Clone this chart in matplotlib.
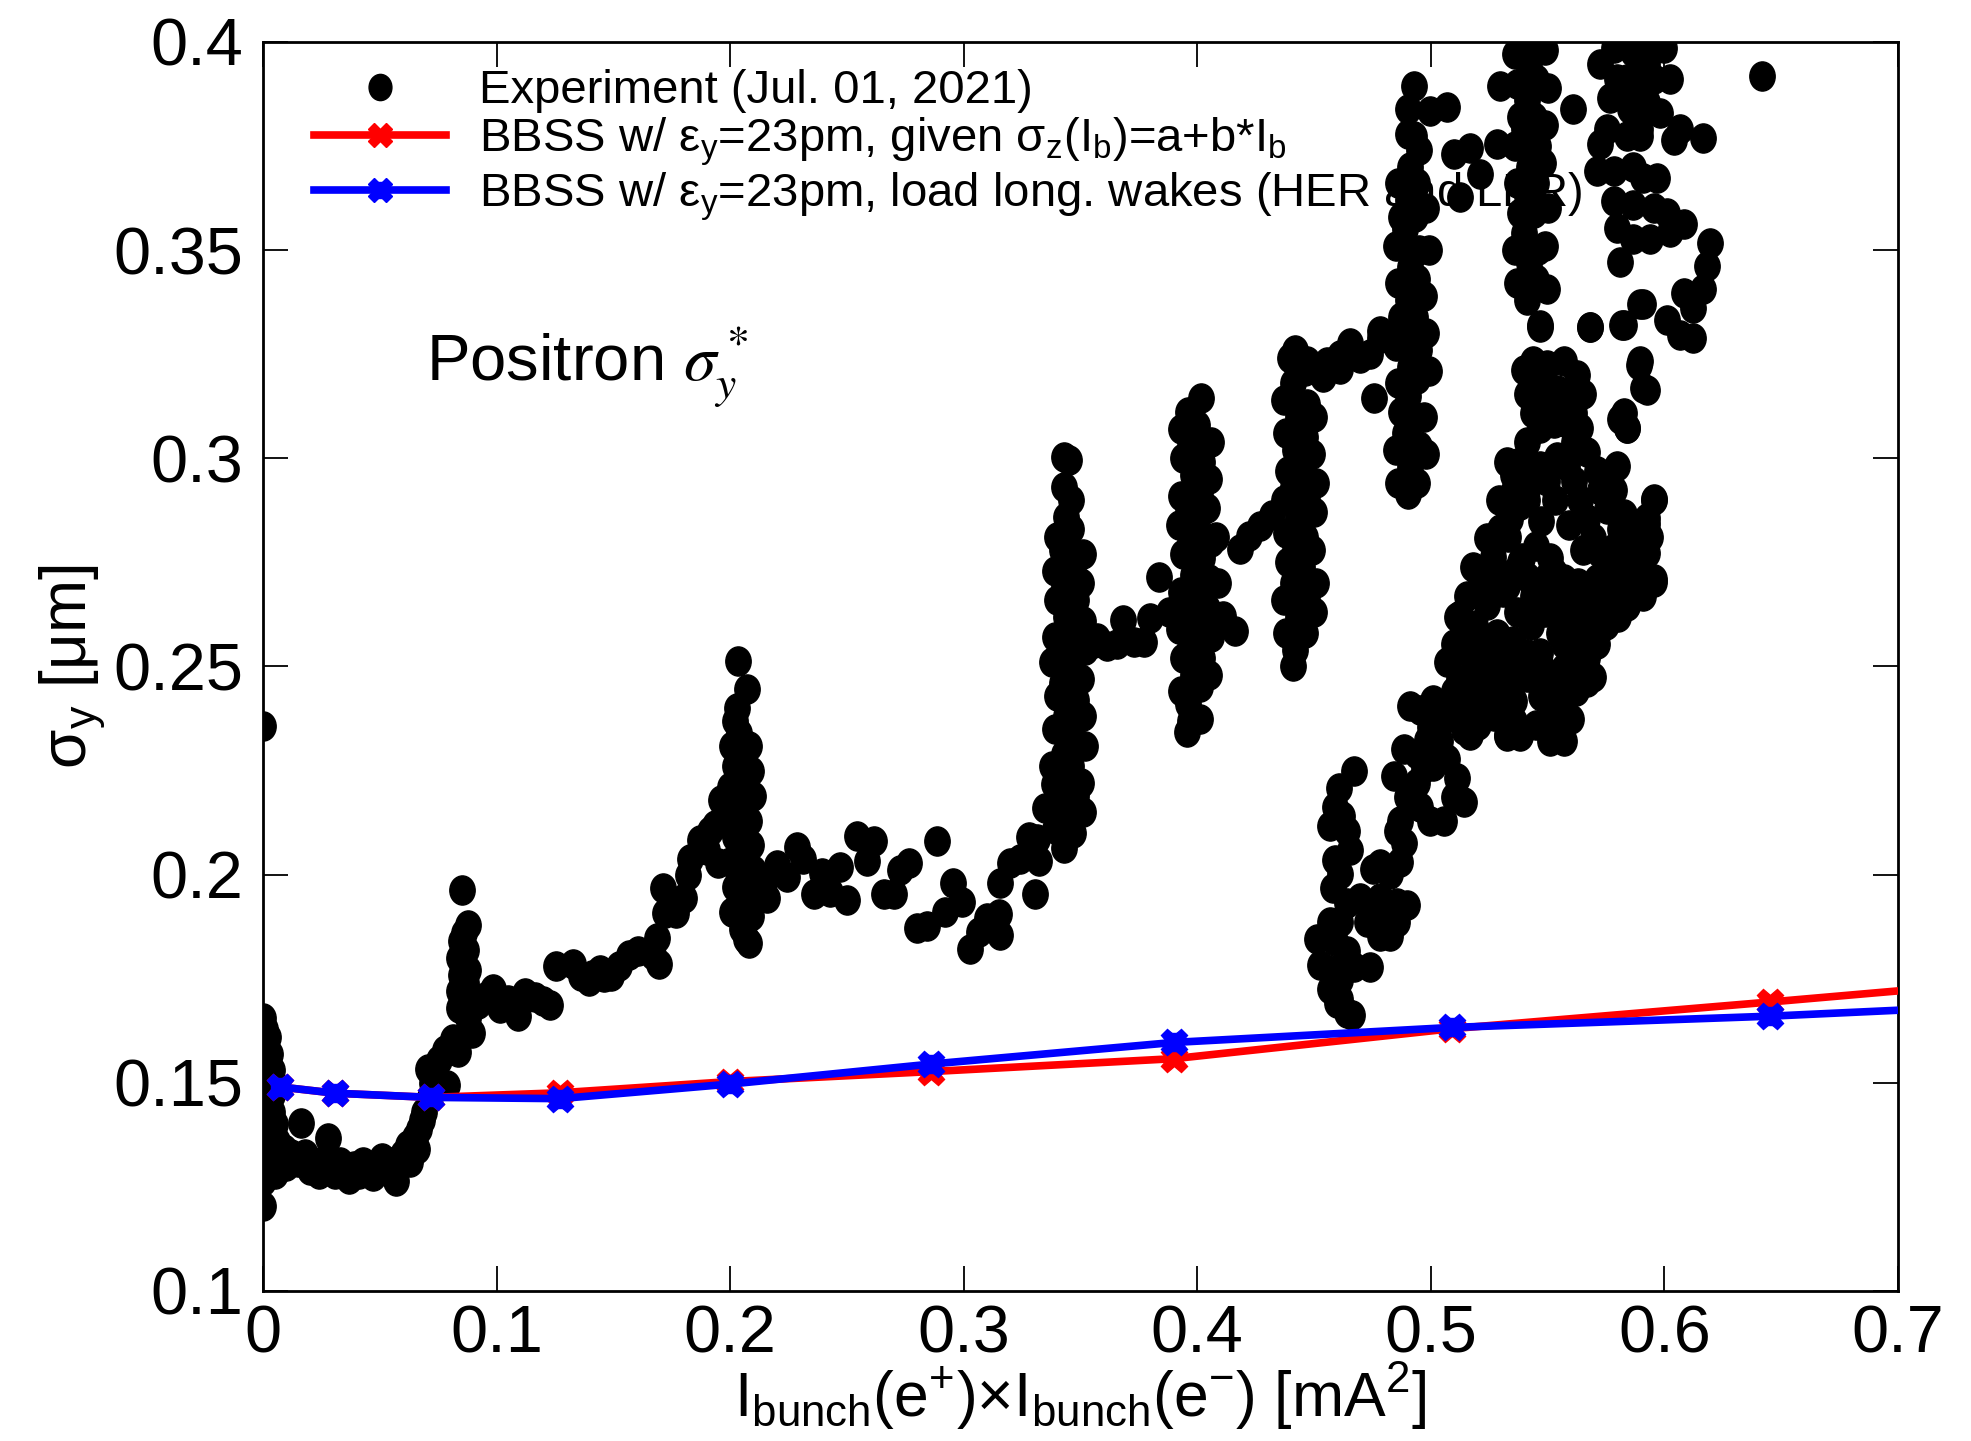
import matplotlib
matplotlib.use("Agg")
import matplotlib.pyplot as plt
from matplotlib.path import Path
from matplotlib.legend_handler import HandlerTuple
import numpy as np

plt.rcParams['font.family'] = ['Liberation Sans', 'DejaVu Sans']
plt.rcParams['mathtext.fontset'] = 'custom'
plt.rcParams['mathtext.rm'] = 'Liberation Sans'
plt.rcParams['mathtext.it'] = 'Liberation Sans:italic'
plt.rcParams['mathtext.bf'] = 'Liberation Sans:bold'

# ---------------- data ----------------
x_ticks = [0, 0.1, 0.2, 0.3, 0.4, 0.5, 0.6, 0.7]
x_ticklabels = ['0', '0.1', '0.2', '0.3', '0.4', '0.5', '0.6', '0.7']
y_ticks = [0.1, 0.15, 0.2, 0.25, 0.3, 0.35, 0.4]
y_ticklabels = ['0.1', '0.15', '0.2', '0.25', '0.3', '0.35', '0.4']

# BBSS simulation, sigma_z(Ib)=a+b*Ib
red_x = [0.0075, 0.031, 0.072, 0.127, 0.200, 0.286, 0.390, 0.509, 0.645, 0.760]
red_y = [0.1490, 0.1475, 0.1465, 0.1476, 0.1503, 0.1527, 0.1558, 0.1630, 0.1694, 0.1750]
# BBSS simulation, longitudinal wakes
blue_x = [0.0075, 0.031, 0.072, 0.127, 0.200, 0.286, 0.390, 0.509, 0.645, 0.760]
blue_y = [0.1490, 0.1475, 0.1465, 0.1462, 0.1497, 0.1545, 0.1597, 0.1633, 0.1660, 0.1690]

# Experiment (Jul. 01, 2021), grouped by region
exp_zero = [(0.000, 0.2358), (0.000, 0.1205), (0.000, 0.1265), (0.001, 0.129), (0.003, 0.131),
            (0.000, 0.133), (0.002, 0.135), (0.004, 0.137), (0.000, 0.139), (0.002, 0.141),
            (0.004, 0.143), (0.001, 0.145), (0.003, 0.147), (0.000, 0.149), (0.002, 0.151),
            (0.004, 0.153), (0.001, 0.155), (0.003, 0.157), (0.000, 0.159), (0.002, 0.161),
            (0.001, 0.163), (0.000, 0.1655), (0.004, 0.133), (0.005, 0.140), (0.004, 0.147),
            (0.005, 0.128)]
exp_low = [(0.006, 0.136), (0.007, 0.132), (0.009, 0.134), (0.010, 0.130), (0.012, 0.133),
           (0.0165, 0.1404), (0.015, 0.131), (0.018, 0.133), (0.020, 0.129), (0.022, 0.131),
           (0.024, 0.128), (0.026, 0.130), (0.028, 0.1367), (0.030, 0.130), (0.031, 0.128),
           (0.033, 0.131), (0.035, 0.129), (0.037, 0.127), (0.039, 0.130), (0.041, 0.128),
           (0.043, 0.131), (0.045, 0.129), (0.047, 0.1275), (0.049, 0.130), (0.051, 0.132),
           (0.053, 0.129), (0.055, 0.131), (0.057, 0.1265), (0.058, 0.130), (0.060, 0.133),
           (0.062, 0.135), (0.063, 0.131), (0.065, 0.137), (0.066, 0.134), (0.067, 0.139),
           (0.068, 0.141), (0.069, 0.143)]
exp_rise1 = [(0.0705, 0.1532), (0.0714, 0.1465), (0.0725, 0.150), (0.0755, 0.1555), (0.0788, 0.1495),
             (0.078, 0.158), (0.0812, 0.1605), (0.0835, 0.1574), (0.0877, 0.1656), (0.0894, 0.1619)]
exp_strip085 = [(0.084, 0.168), (0.086, 0.170), (0.084, 0.172), (0.087, 0.174), (0.085, 0.176),
                (0.086, 0.178), (0.084, 0.180), (0.087, 0.182), (0.085, 0.184), (0.088, 0.171),
                (0.088, 0.177), (0.0877, 0.188), (0.0853, 0.1964), (0.089, 0.168), (0.086, 0.186)]
exp_tail1 = [(0.092, 0.169), (0.095, 0.1705), (0.0984, 0.1725), (0.1017, 0.168), (0.105, 0.170),
             (0.109, 0.166), (0.1123, 0.1716), (0.1164, 0.1706), (0.1197, 0.1697), (0.123, 0.1688),
             (0.1254, 0.178), (0.1329, 0.1785), (0.136, 0.1757), (0.1394, 0.1745), (0.141, 0.176),
             (0.1443, 0.177), (0.146, 0.1755), (0.1492, 0.1757), (0.1525, 0.178), (0.1566, 0.1807),
             (0.1607, 0.1817), (0.1672, 0.1807), (0.1697, 0.1785)]
exp_rise2 = [(0.1688, 0.1849), (0.1713, 0.1968), (0.1721, 0.1909), (0.177, 0.1909), (0.1803, 0.1945),
             (0.182, 0.200), (0.1828, 0.2037), (0.1869, 0.2083), (0.190, 0.206), (0.1915, 0.2105),
             (0.1935, 0.212), (0.1959, 0.2179), (0.195, 0.2028), (0.198, 0.215)]
exp_strip02 = [(0.201, 0.191), (0.202, 0.197), (0.200, 0.203), (0.202, 0.209), (0.201, 0.214),
               (0.200, 0.221), (0.202, 0.226), (0.201, 0.231), (0.202, 0.237), (0.205, 0.187),
               (0.206, 0.194), (0.204, 0.199), (0.206, 0.205), (0.205, 0.212), (0.204, 0.218),
               (0.206, 0.223), (0.205, 0.229), (0.204, 0.234), (0.209, 0.190), (0.208, 0.196),
               (0.210, 0.201), (0.209, 0.207), (0.208, 0.213), (0.210, 0.219), (0.209, 0.225),
               (0.208, 0.231), (0.207, 0.1845), (0.208, 0.1835), (0.2033, 0.2514), (0.2073, 0.2445),
               (0.203, 0.240)]
exp_mid = [(0.215, 0.1986), (0.2157, 0.1943), (0.220, 0.2024), (0.2243, 0.1995), (0.2286, 0.2066),
           (0.2314, 0.2038), (0.2357, 0.1953), (0.2393, 0.2005), (0.2429, 0.1958), (0.2471, 0.2019),
           (0.250, 0.1939), (0.2543, 0.2094), (0.2586, 0.2033), (0.2614, 0.2080), (0.2657, 0.1953),
           (0.270, 0.1953), (0.2728, 0.201), (0.2764, 0.2028), (0.280, 0.1873), (0.2843, 0.1877),
           (0.2885, 0.2080), (0.2921, 0.191), (0.2956, 0.1981), (0.2992, 0.1934), (0.3028, 0.1821),
           (0.3064, 0.1863), (0.310, 0.1896), (0.315, 0.1906), (0.3157, 0.1854), (0.3157, 0.1981),
           (0.320, 0.2028), (0.3242, 0.2038), (0.3278, 0.2090), (0.3313, 0.2085), (0.3321, 0.2033),
           (0.3306, 0.1953), (0.3349, 0.216), (0.3385, 0.2217)]
exp_strip345 = [(0.339, 0.211), (0.340, 0.219), (0.338, 0.226), (0.339, 0.235), (0.340, 0.243),
                (0.338, 0.251), (0.339, 0.257), (0.340, 0.266), (0.339, 0.273), (0.340, 0.281),
                (0.343, 0.2065), (0.344, 0.214), (0.342, 0.222), (0.343, 0.229), (0.344, 0.238),
                (0.342, 0.246), (0.343, 0.253), (0.344, 0.262), (0.343, 0.269), (0.342, 0.278),
                (0.344, 0.286), (0.343, 0.293), (0.347, 0.210), (0.348, 0.219), (0.346, 0.226),
                (0.347, 0.233), (0.348, 0.242), (0.346, 0.250), (0.347, 0.259), (0.348, 0.266),
                (0.347, 0.274), (0.346, 0.283), (0.346, 0.290), (0.345, 0.2995), (0.351, 0.215),
                (0.350, 0.222), (0.352, 0.231), (0.351, 0.238), (0.350, 0.247), (0.352, 0.254),
                (0.351, 0.261), (0.350, 0.270), (0.351, 0.277), (0.343, 0.3004)]
exp_tail2 = [(0.3556, 0.2556), (0.357, 0.2569), (0.3613, 0.2549), (0.3656, 0.2554), (0.3684, 0.2611),
             (0.3727, 0.2559), (0.377, 0.2559), (0.3798, 0.2616), (0.3834, 0.2714), (0.3877, 0.2631)]
exp_strip40 = [(0.393, 0.244), (0.394, 0.252), (0.392, 0.259), (0.393, 0.268), (0.394, 0.277),
               (0.392, 0.284), (0.393, 0.291), (0.394, 0.300), (0.393, 0.307), (0.397, 0.237),
               (0.396, 0.241), (0.398, 0.248), (0.397, 0.256), (0.396, 0.265), (0.398, 0.272),
               (0.397, 0.280), (0.396, 0.288), (0.398, 0.296), (0.397, 0.303), (0.396, 0.311),
               (0.401, 0.245), (0.402, 0.252), (0.400, 0.261), (0.401, 0.268), (0.402, 0.276),
               (0.400, 0.285), (0.401, 0.292), (0.402, 0.299), (0.400, 0.308), (0.4015, 0.3145),
               (0.405, 0.248), (0.406, 0.257), (0.404, 0.264), (0.405, 0.271), (0.406, 0.280),
               (0.404, 0.288), (0.405, 0.295), (0.406, 0.304), (0.408, 0.261), (0.409, 0.270),
               (0.408, 0.281), (0.3955, 0.2342), (0.4013, 0.2373)]
exp_tail3 = [(0.411, 0.2621), (0.4162, 0.2585), (0.4184, 0.2782), (0.422, 0.2813), (0.427, 0.2838),
             (0.432, 0.2864)]
exp_strip445 = [(0.438, 0.258), (0.437, 0.266), (0.439, 0.275), (0.438, 0.282), (0.437, 0.290),
                (0.439, 0.297), (0.438, 0.306), (0.437, 0.314), (0.442, 0.254), (0.443, 0.262),
                (0.441, 0.270), (0.442, 0.279), (0.443, 0.286), (0.441, 0.293), (0.442, 0.302),
                (0.443, 0.310), (0.441, 0.318), (0.442, 0.326), (0.446, 0.258), (0.447, 0.267),
                (0.445, 0.274), (0.446, 0.281), (0.447, 0.290), (0.445, 0.298), (0.446, 0.305),
                (0.447, 0.313), (0.446, 0.321), (0.450, 0.263), (0.451, 0.270), (0.449, 0.278),
                (0.450, 0.287), (0.451, 0.294), (0.449, 0.301), (0.450, 0.310), (0.441, 0.2502),
                (0.4398, 0.3242), (0.4469, 0.3233)]
exp_row = [(0.454, 0.3196), (0.4555, 0.3232), (0.4612, 0.3214), (0.4612, 0.3247), (0.4655, 0.3278),
           (0.4697, 0.3242), (0.474, 0.3251), (0.4755, 0.3145), (0.4783, 0.329)]
exp_strip49 = [(0.486, 0.294), (0.485, 0.302), (0.487, 0.311), (0.486, 0.318), (0.485, 0.327),
               (0.487, 0.334), (0.486, 0.342), (0.485, 0.351), (0.487, 0.358), (0.486, 0.366),
               (0.490, 0.2915), (0.491, 0.298), (0.489, 0.306), (0.490, 0.315), (0.491, 0.322),
               (0.489, 0.331), (0.490, 0.338), (0.491, 0.346), (0.489, 0.355), (0.490, 0.362),
               (0.491, 0.370), (0.490, 0.378), (0.494, 0.294), (0.495, 0.303), (0.493, 0.310),
               (0.494, 0.319), (0.495, 0.326), (0.493, 0.334), (0.494, 0.343), (0.495, 0.350),
               (0.493, 0.358), (0.494, 0.366), (0.495, 0.374), (0.498, 0.301), (0.497, 0.310),
               (0.499, 0.321), (0.498, 0.330), (0.497, 0.339), (0.499, 0.350), (0.498, 0.360),
               (0.4926, 0.3893), (0.490, 0.3838), (0.4997, 0.3833), (0.5069, 0.3843), (0.4926, 0.3774),
               (0.5097, 0.3732), (0.5168, 0.3746), (0.5211, 0.3682), (0.5125, 0.3627), (0.4783, 0.3306)]
exp_strip54 = [(0.537, 0.342), (0.536, 0.350), (0.538, 0.359), (0.537, 0.366), (0.536, 0.375),
               (0.538, 0.382), (0.537, 0.390), (0.536, 0.397), (0.541, 0.338), (0.542, 0.347),
               (0.540, 0.354), (0.541, 0.363), (0.542, 0.370), (0.540, 0.379), (0.541, 0.386),
               (0.542, 0.394), (0.541, 0.3995), (0.545, 0.343), (0.546, 0.350), (0.544, 0.359),
               (0.545, 0.366), (0.546, 0.375), (0.544, 0.382), (0.545, 0.391), (0.546, 0.398),
               (0.549, 0.351), (0.550, 0.360), (0.548, 0.371), (0.549, 0.380), (0.550, 0.389),
               (0.549, 0.398), (0.5297, 0.3893), (0.5283, 0.3755), (0.5403, 0.3407), (0.5497, 0.3407),
               (0.561, 0.3838), (0.5468, 0.3315), (0.5682, 0.3315), (0.5818, 0.332), (0.591, 0.337),
               (0.5889, 0.3223), (0.591, 0.3168), (0.581, 0.3095), (0.584, 0.3072)]
exp_strip59 = [(0.5725, 0.3948), (0.5796, 0.3911), (0.5867, 0.3975), (0.5925, 0.3948), (0.5953, 0.3911),
               (0.6024, 0.3911), (0.5768, 0.3865), (0.5839, 0.3865), (0.5925, 0.3856), (0.5982, 0.3829),
               (0.5753, 0.3792), (0.5839, 0.3774), (0.5896, 0.3774), (0.6067, 0.3792), (0.6167, 0.3769),
               (0.6039, 0.3765), (0.5725, 0.3755), (0.5782, 0.3691), (0.5867, 0.3700), (0.5910, 0.3673),
               (0.5967, 0.3673), (0.5782, 0.3618), (0.5867, 0.3609), (0.5953, 0.3600), (0.6010, 0.3590),
               (0.6082, 0.3563), (0.5796, 0.3554), (0.5867, 0.3526), (0.5939, 0.3526), (0.6024, 0.3544),
               (0.5810, 0.3471), (0.6196, 0.3517), (0.6182, 0.3462), (0.6167, 0.3407), (0.6082, 0.3398),
               (0.6124, 0.3361), (0.6010, 0.3333), (0.6067, 0.3297), (0.6124, 0.3288), (0.5896, 0.3370),
               (0.5711, 0.3691), (0.5839, 0.3911), (0.5896, 0.3911), (0.5782, 0.3985), (0.5911, 0.3985),
               (0.5996, 0.3985), (0.5853, 0.3838), (0.5895, 0.3790), (0.6417, 0.3918)]
exp_lower = [(0.4669, 0.2249), (0.4605, 0.2209), (0.4590, 0.2163), (0.4619, 0.2140), (0.4640, 0.2105),
             (0.4569, 0.2117), (0.4655, 0.2059), (0.4590, 0.2036), (0.4612, 0.2002), (0.4583, 0.1967),
             (0.4640, 0.1933), (0.4569, 0.1886), (0.4612, 0.1886), (0.4590, 0.1840), (0.4640, 0.1817),
             (0.4526, 0.1783), (0.4569, 0.1771), (0.4612, 0.1748), (0.4669, 0.1777), (0.4740, 0.1777),
             (0.4569, 0.1725), (0.4612, 0.1702), (0.4640, 0.1668), (0.4662, 0.1662), (0.4598, 0.1691),
             (0.4512, 0.1846), (0.4697, 0.1944), (0.4754, 0.2013), (0.4783, 0.1944), (0.4812, 0.1909),
             (0.4854, 0.1933), (0.4897, 0.1927), (0.4726, 0.1886), (0.4783, 0.1852), (0.4826, 0.1852),
             (0.4854, 0.1886), (0.4783, 0.2025), (0.4826, 0.2002), (0.4869, 0.2031), (0.4883, 0.2077),
             (0.4854, 0.2105), (0.4869, 0.2128), (0.4840, 0.2238), (0.4883, 0.2301), (0.4897, 0.2186),
             (0.4940, 0.2221), (0.4954, 0.2163), (0.4997, 0.2128), (0.5054, 0.2128), (0.4926, 0.2174),
             (0.4969, 0.2255), (0.5026, 0.2290), (0.5068, 0.2278), (0.5111, 0.2232), (0.5140, 0.2174),
             (0.5097, 0.2186), (0.4983, 0.2324), (0.5026, 0.2347), (0.5083, 0.2382), (0.5140, 0.2347),
             (0.5168, 0.2336), (0.4912, 0.2405), (0.5026, 0.2405), (0.5097, 0.2428), (0.5140, 0.2382),
             (0.5154, 0.2555), (0.5211, 0.2566), (0.5240, 0.2532), (0.5283, 0.2578), (0.5325, 0.2543),
             (0.5354, 0.2509), (0.5382, 0.2486), (0.5410, 0.2474), (0.5439, 0.2509), (0.5468, 0.2532),
             (0.5497, 0.2462), (0.5540, 0.2439), (0.5582, 0.2428), (0.5611, 0.2462), (0.5639, 0.2474),
             (0.5668, 0.2462), (0.5696, 0.2474), (0.5182, 0.2486), (0.5211, 0.2462), (0.5268, 0.2439),
             (0.5325, 0.2439), (0.5354, 0.2416), (0.5354, 0.2370), (0.5382, 0.2336), (0.5325, 0.2336),
             (0.5211, 0.2405), (0.5240, 0.2428), (0.5297, 0.2393), (0.5240, 0.2647), (0.5283, 0.2681),
             (0.5325, 0.2693), (0.5354, 0.2727), (0.5382, 0.2750), (0.5410, 0.2716), (0.5439, 0.2670),
             (0.5468, 0.2693), (0.5497, 0.2716), (0.5525, 0.2727), (0.5554, 0.2670), (0.5582, 0.2635),
             (0.5611, 0.2624), (0.5639, 0.2647), (0.5668, 0.2589), (0.5696, 0.2624), (0.5725, 0.2670),
             (0.5753, 0.2693), (0.5782, 0.2762), (0.5839, 0.2808), (0.5896, 0.2797), (0.5925, 0.2843),
             (0.5953, 0.2900), (0.5925, 0.2773), (0.5867, 0.2716), (0.5839, 0.2647), (0.5910, 0.2670),
             (0.5953, 0.2704), (0.5711, 0.2555), (0.5739, 0.2601), (0.5568, 0.2555), (0.5611, 0.2532),
             (0.5668, 0.2520), (0.5568, 0.2497), (0.5297, 0.2831), (0.5340, 0.2854), (0.5382, 0.2889),
             (0.5410, 0.2923), (0.5354, 0.2923), (0.5439, 0.2958), (0.5325, 0.2992), (0.5382, 0.2992),
             (0.5468, 0.2981), (0.5497, 0.2946), (0.5540, 0.3004), (0.5582, 0.2981), (0.5611, 0.2946),
             (0.5639, 0.2900), (0.5668, 0.2854), (0.5696, 0.2808), (0.5725, 0.2773), (0.5782, 0.2785),
             (0.5810, 0.2831), (0.5825, 0.2866), (0.5853, 0.2843), (0.5753, 0.2877), (0.5725, 0.2923),
             (0.5782, 0.2923), (0.5796, 0.2981), (0.5410, 0.3038), (0.5468, 0.3073), (0.5525, 0.3085),
             (0.5582, 0.3085), (0.5639, 0.3073), (0.5611, 0.3038), (0.5439, 0.3108), (0.5497, 0.3119),
             (0.5554, 0.3131), (0.5611, 0.3108), (0.5668, 0.3015), (0.5711, 0.2969), (0.5240, 0.2808),
             (0.5268, 0.2762), (0.5182, 0.2739), (0.5154, 0.2670), (0.5125, 0.2624), (0.5097, 0.2555),
             (0.5211, 0.2693), (0.5240, 0.2727), (0.5397, 0.3211), (0.5439, 0.3234), (0.5497, 0.3223),
             (0.5568, 0.3234), (0.5468, 0.3177), (0.5540, 0.3165), (0.5596, 0.3154), (0.5653, 0.3154),
             (0.5410, 0.3154), (0.5625, 0.3200), (0.5468, 0.3321), (0.5682, 0.3315), (0.5825, 0.3321),
             (0.5896, 0.3234), (0.5925, 0.3165), (0.5825, 0.3108), (0.5839, 0.3073),
             (0.5953, 0.2902), (0.5925, 0.2856), (0.5939, 0.2810), (0.5867, 0.2783), (0.5839, 0.2719),
             (0.5953, 0.2710), (0.5896, 0.2682), (0.5839, 0.2645)]
exp_blob = [(0.535, 0.296), (0.541, 0.290), (0.547, 0.285), (0.553, 0.290), (0.559, 0.284),
            (0.565, 0.278), (0.571, 0.271), (0.576, 0.266), (0.529, 0.290), (0.533, 0.281),
            (0.539, 0.276), (0.545, 0.279), (0.551, 0.276), (0.557, 0.271), (0.563, 0.270),
            (0.569, 0.264), (0.575, 0.260), (0.580, 0.262), (0.526, 0.275), (0.531, 0.268),
            (0.537, 0.263), (0.543, 0.260), (0.549, 0.263), (0.555, 0.258), (0.561, 0.256),
            (0.567, 0.253), (0.521, 0.268), (0.519, 0.260), (0.524, 0.256), (0.529, 0.251),
            (0.535, 0.256), (0.541, 0.253), (0.547, 0.250), (0.553, 0.248), (0.559, 0.251),
            (0.562, 0.244), (0.511, 0.262), (0.514, 0.254), (0.512, 0.247), (0.517, 0.243),
            (0.523, 0.247), (0.529, 0.244), (0.547, 0.243), (0.552, 0.238), (0.557, 0.239),
            (0.507, 0.251), (0.510, 0.244), (0.515, 0.238), (0.520, 0.236), (0.527, 0.238),
            (0.533, 0.246), (0.545, 0.236), (0.551, 0.232), (0.557, 0.232), (0.560, 0.2375),
            (0.584, 0.2835), (0.588, 0.275), (0.574, 0.277), (0.579, 0.270), (0.4954, 0.2395),
            (0.5011, 0.2420), (0.5054, 0.2375), (0.4997, 0.2355), (0.5040, 0.2320), (0.4940, 0.2290),
            (0.5011, 0.2260), (0.5325, 0.2333), (0.5382, 0.2333)]

exp_all = (exp_zero + exp_low + exp_rise1 + exp_strip085 + exp_tail1 + exp_rise2 + exp_strip02 +
           exp_mid + exp_strip345 + exp_tail2 + exp_strip40 + exp_tail3 + exp_strip445 + exp_row +
           exp_strip49 + exp_strip54 + exp_strip59 + exp_lower + exp_blob)
exp_x = [p[0] for p in exp_all]
exp_y = [p[1] for p in exp_all]

labels = ['Experiment (Jul. 01, 2021)',
          r'BBSS w/ ε$_{\mathrm{y}}$=23pm, given σ$_{\mathrm{z}}$(I$_{\mathrm{b}}$)=a+b*I$_{\mathrm{b}}$',
          r'BBSS w/ ε$_{\mathrm{y}}$=23pm, load long. wakes (HER and LER)']

# ---------------- figure ----------------
fig = plt.figure(figsize=(19.71, 14.41), dpi=100)
ax = fig.add_axes([0.1334, 0.1041, 0.8296, 0.8668])

circ = Path.unit_circle()
ell = Path(circ.vertices * np.array([1.0, 1.15]), circ.codes)

h_exp, = ax.plot(exp_x, exp_y, ls='none', marker=ell, ms=21, color='black', zorder=3)
h_red, = ax.plot(red_x, red_y, color='#ff0000', lw=5.5, marker='X', ms=19, zorder=4)
h_blue, = ax.plot(blue_x, blue_y, color='#0000ff', lw=5.5, marker='X', ms=19, zorder=5)
h_blue2, = ax.plot(blue_x, blue_y, ls='none', color='#0000ff', marker='s', ms=13, zorder=5)

ax.set_xlim(0, 0.7)
ax.set_ylim(0.1, 0.4)
ax.set_xticks(x_ticks)
ax.set_xticklabels(x_ticklabels)
ax.set_yticks(y_ticks)
ax.set_yticklabels(y_ticklabels)
ax.tick_params(direction='in', length=18, width=1.3, top=True, right=True,
               labelsize=48, pad=14)
ax.tick_params(axis='x', pad=10)
for s in ax.spines.values():
    s.set_linewidth(2.0)

ax.set_xlabel(r'I$_{\mathrm{bunch}}$(e$^{+}$)×I$_{\mathrm{bunch}}$(e$^{-}$) [mA$^{2}$]', fontsize=45)
ax.xaxis.set_label_coords(0.5, -0.056)
ax.set_ylabel(r'σ$_{\mathrm{y}}$ [μm]', fontsize=46)
ax.yaxis.set_label_coords(-0.095, 0.5)

ax.text(0.07, 0.322, r'Positron $\sigma_y^*$', fontsize=47, ha='left', va='center',
        math_fontfamily='stix', zorder=2)

leg = ax.legend([h_exp, h_red, (h_blue, h_blue2)], labels, loc='upper left',
                bbox_to_anchor=(0.031, 0.978), frameon=False, fontsize=34,
                handlelength=2.8, handletextpad=0.7, labelspacing=0.05, borderpad=0,
                borderaxespad=0, markerscale=0.9,
                handler_map={tuple: HandlerTuple(ndivide=1)})
leg.set_zorder(1)

fig.savefig('out.png', dpi=100)
